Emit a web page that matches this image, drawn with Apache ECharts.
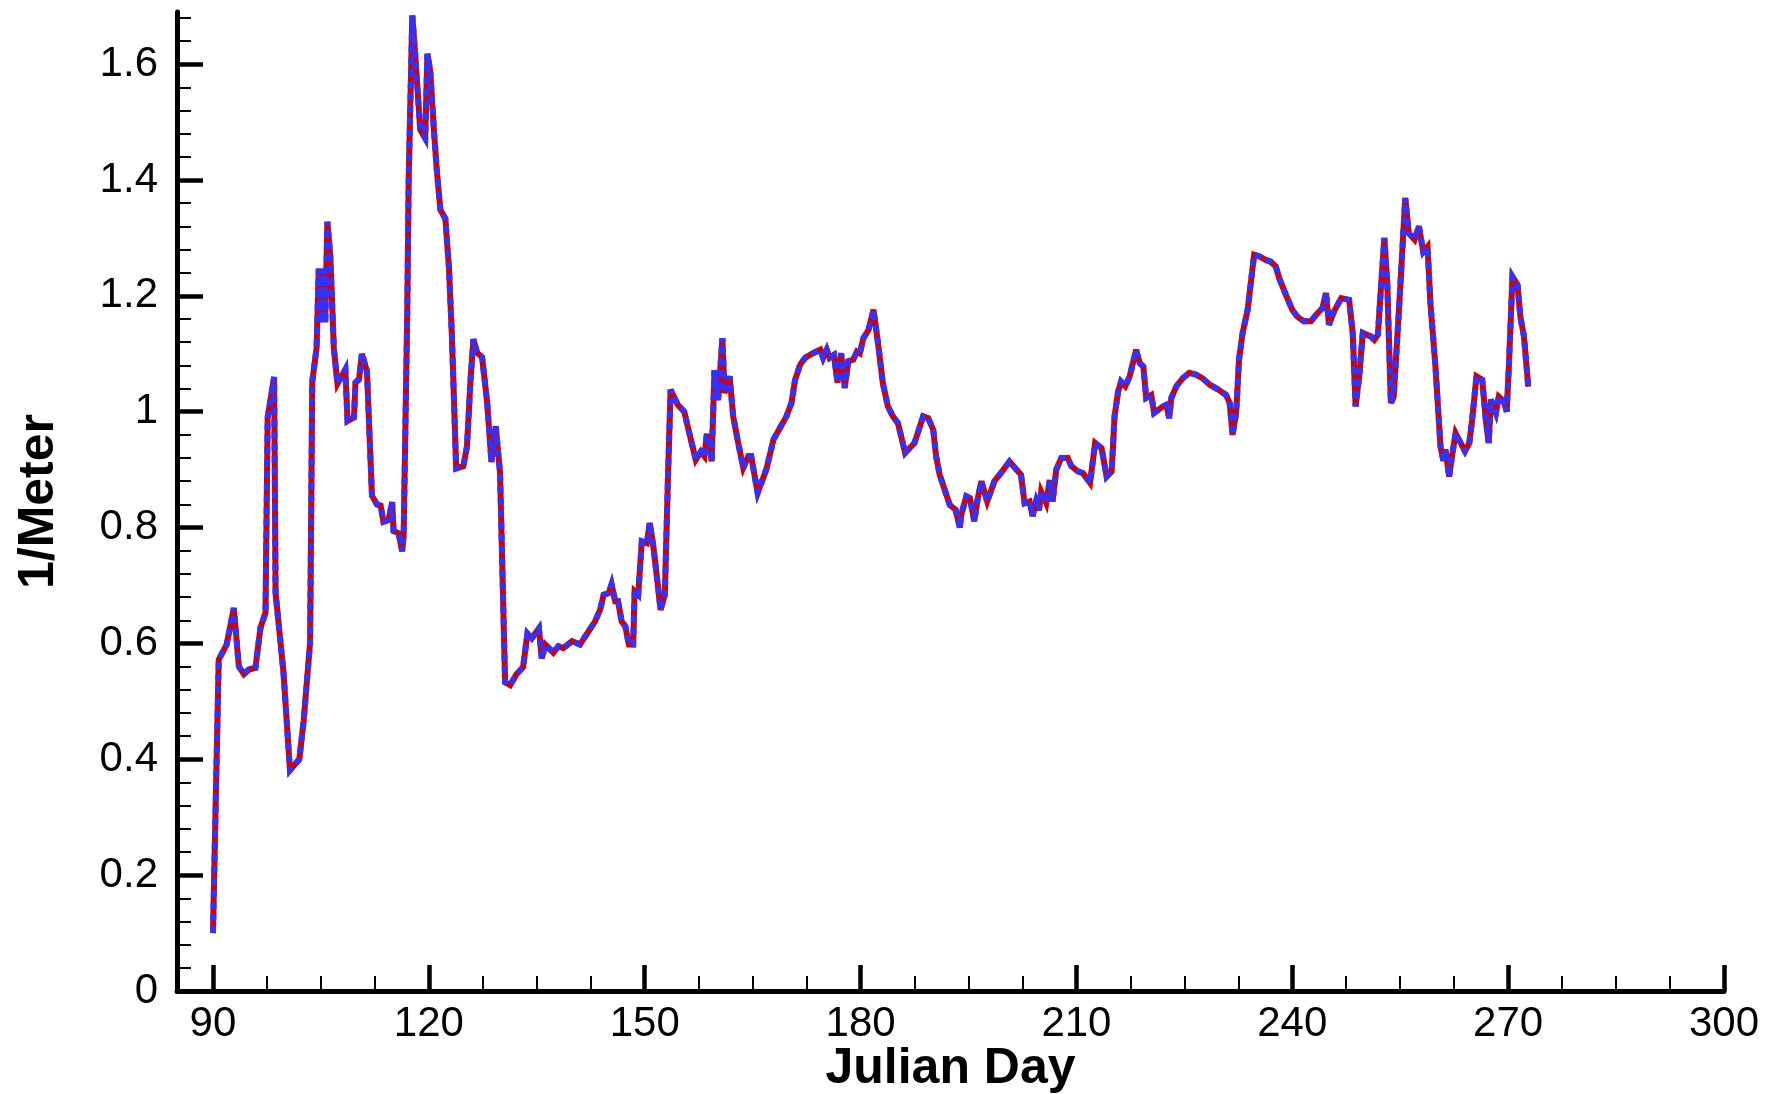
<!DOCTYPE html>
<html>
<head>
<meta charset="utf-8">
<title>Julian Day</title>
<script src="https://cdn.jsdelivr.net/npm/echarts@6.0.0/dist/echarts.min.js"></script>
<style>
html,body{margin:0;padding:0;background:#fff;}
#tu_1{width:1767px;height:1094px;}
</style>
</head>
<body>
<div id="tu_1"></div>
<script>
// julian day of each sample
var days = [
	90, 90.8, 91.9, 92.9, 93.6, 94.3, 95.0, 95.9, 96.6, 97.3, 97.6, 98.5, 98.7, 99.8,
	100.7, 102.0, 102.6, 103.5, 103.8, 104.4, 104.7, 105.2, 105.4, 105.6, 105.9, 106.3, 106.8, 107.3,
	108.4, 108.7, 109.6, 109.8, 110.3, 110.7, 111.4, 112.1, 112.8, 113.3, 113.7, 114.4, 114.9, 115.1,
	115.8, 116.3, 116.5, 117.0, 117.2, 117.7, 118.1, 118.8, 119.5, 119.8, 120.2, 120.7, 121.1, 121.6,
	122.3, 122.8, 123.2, 123.8, 124.8, 125.3, 125.8, 126.2, 126.7, 127.4, 128.1, 128.7, 129.0, 129.3,
	129.9, 130.6, 131.3, 132.2, 133.1, 133.7, 134.3, 135.3, 135.7, 136.2, 137.3, 138.0, 138.7, 139.9,
	141.0, 142.2, 143.1, 143.8, 144.3, 145.0, 145.4, 145.9, 146.3, 146.8, 147.3, 147.8, 148.4, 148.6,
	149.1, 149.6, 150.3, 150.7, 151.2, 151.9, 152.2, 152.8, 153.2, 153.6, 154.6, 155.5, 156.2, 157.1,
	157.8, 158.3, 158.6, 159.0, 159.3, 159.7, 160.2, 160.8, 161.1, 161.8, 162.3, 163.0, 163.7, 164.4,
	164.8, 165.7, 166.9, 167.9, 168.8, 169.7, 170.4, 170.9, 171.6, 172.3, 173.4, 174.4, 174.8, 175.3,
	175.7, 176.3, 176.8, 177.3, 177.8, 178.3, 179.0, 179.5, 179.9, 180.4, 181.1, 181.8, 182.3, 182.6,
	183.1, 183.8, 184.5, 185.2, 186.2, 187.5, 188.7, 189.4, 190.1, 190.5, 191.0, 191.7, 192.4, 193.2,
	193.8, 194.0, 194.7, 195.2, 195.8, 196.3, 196.8, 197.6, 198.6, 199.5, 200.7, 202.3, 202.8, 203.5,
	203.9, 204.4, 204.8, 205.1, 205.8, 206.3, 206.7, 207.2, 207.9, 208.8, 209.3, 210.2, 210.9, 211.9,
	212.6, 213.5, 214.2, 214.9, 215.3, 215.8, 216.2, 216.8, 217.4, 218.3, 218.8, 219.3, 219.7, 220.4,
	220.8, 222.0, 222.5, 222.9, 223.2, 223.9, 224.8, 225.7, 226.6, 227.5, 228.5, 229.6, 230.8, 231.3,
	231.7, 232.2, 232.6, 233.1, 233.8, 234.7, 235.6, 236.3, 237.0, 237.7, 238.2, 239.1, 240.0, 240.7,
	241.6, 242.6, 243.3, 244.2, 244.7, 245.1, 245.8, 246.8, 247.9, 248.4, 248.8, 249.3, 249.8, 250.9,
	251.4, 251.9, 252.4, 252.8, 253.2, 253.7, 254.1, 254.8, 255.3, 255.7, 256.2, 257.0, 257.6, 258.2,
	258.8, 259.2, 259.9, 260.6, 261.0, 261.3, 261.8, 262.2, 262.7, 263.4, 264.0, 264.6, 265.0, 265.6,
	266.4, 266.9, 267.3, 267.6, 268.3, 268.7, 269.4, 269.8, 270.1, 270.6, 271.3, 271.7, 272.2, 272.8
];
// 1/Meter
var vals = [
	0.10, 0.572, 0.598, 0.661, 0.56, 0.547, 0.555, 0.558, 0.627, 0.653, 0.99, 1.06, 0.687, 0.55,
	0.381, 0.40, 0.466, 0.602, 1.052, 1.11, 1.247, 1.154, 1.247, 1.154, 1.328, 1.27, 1.11, 1.048,
	1.073, 0.984, 0.99, 1.05, 1.056, 1.10, 1.07, 0.855, 0.84, 0.838, 0.81, 0.813, 0.844, 0.794,
	0.79, 0.759, 0.786, 1.171, 1.402, 1.684, 1.618, 1.487, 1.472, 1.618, 1.588, 1.487, 1.418, 1.349,
	1.333, 1.248, 1.133, 0.902, 0.906, 0.94, 1.056, 1.125, 1.102, 1.094, 1.017, 0.913, 0.948, 0.975,
	0.894, 0.533, 0.528, 0.547, 0.559, 0.617, 0.609, 0.626, 0.574, 0.598, 0.584, 0.595, 0.592, 0.604,
	0.598, 0.621, 0.638, 0.658, 0.684, 0.687, 0.702, 0.673, 0.673, 0.638, 0.630, 0.598, 0.598, 0.690,
	0.684, 0.776, 0.773, 0.808, 0.768, 0.693, 0.658, 0.684, 0.871, 1.038, 1.012, 1.0, 0.963, 0.917,
	0.931, 0.923, 0.957, 0.957, 0.914, 1.072, 1.02, 1.127, 1.032, 1.061, 0.992, 0.946, 0.903, 0.923,
	0.923, 0.86, 0.9, 0.952, 0.972, 0.992, 1.015, 1.055, 1.081, 1.093, 1.101, 1.107, 1.093, 1.107,
	1.093, 1.098, 1.05, 1.101, 1.041, 1.087, 1.09, 1.104, 1.101, 1.127, 1.141, 1.176, 1.13, 1.101,
	1.049, 1.009, 0.992, 0.980, 0.929, 0.946, 0.992, 0.989, 0.969, 0.923, 0.891, 0.865, 0.839, 0.831,
	0.80, 0.822, 0.854, 0.851, 0.811, 0.851, 0.88, 0.845, 0.88, 0.894, 0.914, 0.891, 0.842, 0.845,
	0.82, 0.845, 0.83, 0.862, 0.842, 0.882, 0.845, 0.9, 0.92, 0.92, 0.906, 0.897, 0.894, 0.877,
	0.946, 0.937, 0.888, 0.897, 0.992, 1.035, 1.052, 1.044, 1.061, 1.107, 1.084, 1.078, 1.024, 1.029,
	0.998, 1.009, 1.012, 0.989, 1.024, 1.044, 1.058, 1.067, 1.064, 1.058, 1.047, 1.039, 1.029, 1.015,
	0.960, 0.998, 1.09, 1.136, 1.176, 1.271, 1.267, 1.262, 1.259, 1.251, 1.23, 1.202, 1.176, 1.164,
	1.156, 1.156, 1.167, 1.179, 1.205, 1.15, 1.173, 1.196, 1.193, 1.136, 1.009, 1.061, 1.136, 1.13,
	1.124, 1.133, 1.228, 1.30, 1.222, 1.015, 1.026, 1.17, 1.279, 1.369, 1.308, 1.297, 1.320, 1.276,
	1.285, 1.187, 1.078, 0.94, 0.915, 0.935, 0.888, 0.923, 0.963, 0.946, 0.932, 0.946, 0.986, 1.061,
	1.055, 0.986, 0.946, 1.021, 0.998, 1.026, 1.018, 1.0, 1.078, 1.233, 1.219, 1.164, 1.130, 1.043
];
// tick labels
var xMajor = [90, 120, 150, 180, 210, 240, 270, 300];
var xMinor = [97.5, 105, 112.5, 127.5, 135, 142.5, 157.5, 165, 172.5, 187.5, 195, 202.5,
	217.5, 225, 232.5, 247.5, 255, 262.5, 277.5, 285, 292.5];
var yMajor = [0, 0.2, 0.4, 0.6, 0.8, 1, 1.2, 1.4, 1.6];
var yMinor = [0.04, 0.08, 0.12, 0.16, 0.24, 0.28, 0.32, 0.36, 0.44, 0.48, 0.52, 0.56,
	0.64, 0.68, 0.72, 0.76, 0.84, 0.88, 0.92, 0.96, 1.04, 1.08, 1.12, 1.16,
	1.24, 1.28, 1.32, 1.36, 1.44, 1.48, 1.52, 1.56, 1.64, 1.68];

var myChart_1;
function a1(){
	myChart_1 = echarts.init(document.getElementById('tu_1'), null, {renderer: 'canvas'});
	var pts = [];
	for(var i=0; i<days.length; i++){
		pts.push([days[i], vals[i]]);
	}
	var font = 'Liberation Sans, Arial, Helvetica, sans-serif';
	var xmin = 85, xmax = 300, ymin = 0, ymax = 1.69;
	var option = {
		animation: false,
		// fixed plot box, labels are allowed to sit outside it
		grid: {left: 177, right: 43, top: 12, bottom: 103, containLabel: false, outerBoundsMode: 'none'},
		xAxis: [
			{
				type: 'value', min: xmin, max: xmax,
				name: 'Julian Day', nameLocation: 'middle', nameGap: 53, nameMoveOverlap: false,
				nameTextStyle: {fontFamily: font, fontWeight: 'bold', fontSize: 50, color: '#000'},
				axisLine: {show: true, lineStyle: {color: '#000', width: 5}},
				axisTick: {show: true, inside: true, length: 26, customValues: xMajor, lineStyle: {color: '#000', width: 4.5}},
				axisLabel: {customValues: xMajor, margin: 12, fontFamily: font, fontSize: 42, color: '#000'},
				splitLine: {show: false}
			},
			{
				type: 'value', min: xmin, max: xmax, position: 'bottom',
				axisLine: {show: false},
				axisTick: {show: true, inside: true, length: 15, customValues: xMinor, lineStyle: {color: '#000', width: 2}},
				axisLabel: {show: false},
				splitLine: {show: false}
			}
		],
		yAxis: [
			{
				type: 'value', min: ymin, max: ymax,
				name: '1/Meter', nameLocation: 'middle', nameGap: 113, nameRotate: 90, nameMoveOverlap: false,
				nameTextStyle: {fontFamily: font, fontWeight: 'bold', fontSize: 50, color: '#000'},
				axisLine: {show: true, lineStyle: {color: '#000', width: 5}},
				axisTick: {show: true, inside: true, length: 26, customValues: yMajor, lineStyle: {color: '#000', width: 4.5}},
				axisLabel: {customValues: yMajor, margin: 19, fontFamily: font, fontSize: 42, color: '#000'},
				splitLine: {show: false}
			},
			{
				type: 'value', min: ymin, max: ymax, position: 'left',
				axisLine: {show: false},
				axisTick: {show: true, inside: true, length: 14, customValues: yMinor, lineStyle: {color: '#000', width: 2}},
				axisLabel: {show: false},
				splitLine: {show: false}
			}
		],
		series: [
			{
				name: 'red', type: 'line', xAxisIndex: 0, yAxisIndex: 0,
				showSymbol: false, symbol: 'none',
				lineStyle: {color: '#d40000', width: 6, join: 'miter', miterLimit: 4},
				data: pts, z: 2
			},
			{
				name: 'blue', type: 'line', xAxisIndex: 0, yAxisIndex: 0,
				showSymbol: false, symbol: 'none',
				lineStyle: {color: '#3232ff', width: 6, type: [7, 5], join: 'miter', miterLimit: 4},
				data: pts, z: 3
			}
		]
	};
	myChart_1.setOption(option);
}
a1();
</script>
</body>
</html>
